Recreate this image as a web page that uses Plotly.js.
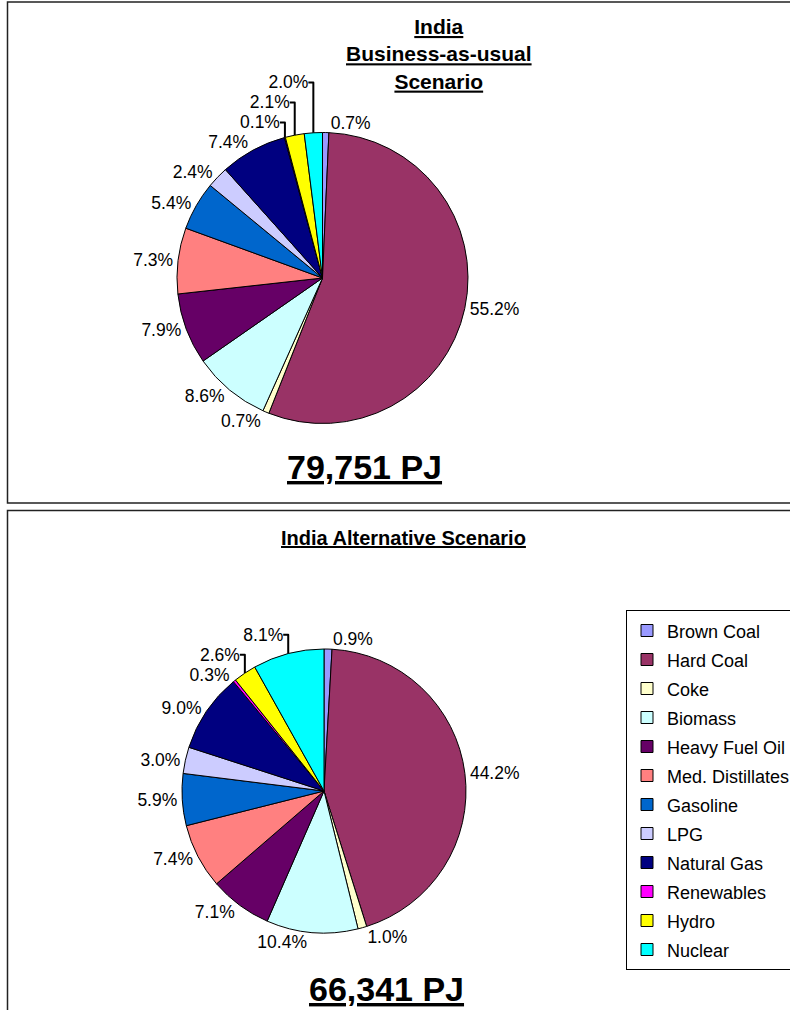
<!DOCTYPE html>
<html>
<head>
<meta charset="utf-8">
<script src="https://cdn.plot.ly/plotly-3.0.1.min.js"></script>
<style>html,body{margin:0;padding:0;background:#fff;}#chart{width:790px;height:1010px;}</style>
</head>
<body>
<div id="chart"></div>
<script>
// Categories (clockwise from 12 o'clock)
const categories = ["Brown Coal","Hard Coal","Coke","Biomass","Heavy Fuel Oil","Med. Distillates","Gasoline","LPG","Natural Gas","Renewables","Hydro","Nuclear"];
// Shares (%) - Business-as-usual scenario
const bauValues = [0.7, 55.2, 0.7, 8.6, 7.9, 7.3, 5.4, 2.4, 7.4, 0.1, 2.1, 2.0];
// Shares (%) - Alternative scenario
const altValues = [0.9, 44.2, 1.0, 10.4, 7.1, 7.4, 5.9, 3.0, 9.0, 0.3, 2.6, 8.1];
const sliceColors = ["#9999FF","#993366","#FFFFCC","#CCFFFF","#660066","#FF8080","#0066CC","#CCCCFF","#000080","#FF00FF","#FFFF00","#00FFFF"];
const bauTitle = "India<br>Business-as-usual<br>Scenario";
const altTitle = "India Alternative Scenario";
const bauTotal = "79,751 PJ";
const altTotal = "66,341 PJ";

const W = 790, H = 1010;
const FONT = "Liberation Sans, Arial, Helvetica, sans-serif";
const px = v => v / W;
const py = v => (H - v) / H;

const legendLabels = categories.map(c => '<span style="font-size:18px">' + c + '</span>');

function pieTrace(values, cx, cy, r, show) {
  return {
    type: 'pie',
    labels: legendLabels,
    values: values,
    sort: false,
    direction: 'clockwise',
    rotation: 0,
    marker: {colors: sliceColors, line: {color: '#000', width: 1}},
    textposition: 'outside',
    texttemplate: '%{value:.1f}%',
    textfont: {family: FONT, size: 17.5, color: '#000'},
    outsidetextfont: {family: FONT, size: 17.5, color: '#000'},
    hoverinfo: 'label+value',
    showlegend: show,
    domain: {x: [px(cx - r), px(cx + r)], y: [py(cy + r), py(cy - r)]}
  };
}

const data = [
  pieTrace(bauValues, 322.5, 278, 145.5, true),
  pieTrace(altValues, 324, 791, 142, true)
];

const u = s => s.split('<br>').map(t => '<b><u>' + t + '</u></b>').join('<br>');

const layout = {
  width: W, height: H,
  margin: {l: 0, r: 0, t: 0, b: 0, autoexpand: false},
  paper_bgcolor: '#fff',
  font: {family: FONT, color: '#000'},
  showlegend: true,
  legend: {
    x: px(626), xanchor: 'left', y: py(610), yanchor: 'top',
    bgcolor: '#fff', bordercolor: '#000', borderwidth: 1,
    font: {family: FONT, size: 20, color: '#000'},
    traceorder: 'normal'
  },
  shapes: [
    {type: 'rect', xref: 'paper', yref: 'paper', x0: px(7.5), x1: px(800), y0: py(503), y1: py(2), line: {color: '#222', width: 1.5}, layer: 'below'},
    {type: 'rect', xref: 'paper', yref: 'paper', x0: px(7.5), x1: px(800), y0: py(1020), y1: py(510.5), line: {color: '#222', width: 1.5}, layer: 'below'}
  ],
  annotations: [
    {text: u(bauTitle), xref: 'paper', yref: 'paper', x: px(439), y: py(13), xanchor: 'center', yanchor: 'top', showarrow: false, font: {family: FONT, size: 21, color: '#000'}, align: 'center'},
    {text: u(altTitle), xref: 'paper', yref: 'paper', x: px(404), y: py(525), xanchor: 'center', yanchor: 'top', showarrow: false, font: {family: FONT, size: 20, color: '#000'}},
    {text: '<b><u>' + bauTotal + '</u></b>', xref: 'paper', yref: 'paper', x: px(364.5), y: py(446), xanchor: 'center', yanchor: 'top', showarrow: false, font: {family: FONT, size: 34, color: '#000'}},
    {text: '<b><u>' + altTotal + '</u></b>', xref: 'paper', yref: 'paper', x: px(386), y: py(968), xanchor: 'center', yanchor: 'top', showarrow: false, font: {family: FONT, size: 34, color: '#000'}}
  ]
};

Plotly.newPlot('chart', data, layout, {displayModeBar: false, staticPlot: true});
</script>
</body>
</html>
